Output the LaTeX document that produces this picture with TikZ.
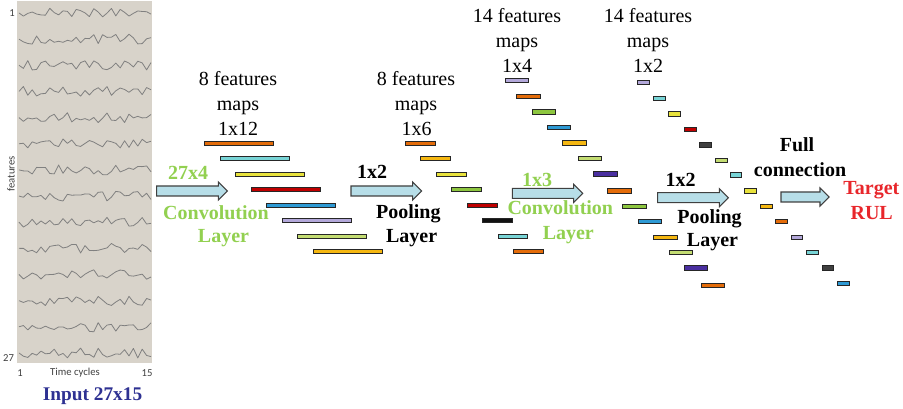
\documentclass[tikz,border=0pt]{standalone}
\usepackage{fontspec}
\setmainfont{Liberation Serif}[BoldFont={Liberation Serif Bold}]
\newfontfamily\tnr{Liberation Serif}[BoldFont={Liberation Serif Bold}]
\newfontfamily\calfont{Carlito}
\definecolor{cOr}{HTML}{E46C0A}
\definecolor{cCy}{HTML}{78D4D6}
\definecolor{cYe}{HTML}{E8E23C}
\definecolor{cRe}{HTML}{C00000}
\definecolor{cBl}{HTML}{2E9AD5}
\definecolor{cLa}{HTML}{B3A8DA}
\definecolor{cLg}{HTML}{C3DC72}
\definecolor{cGr}{HTML}{8DC63F}
\definecolor{cGo}{HTML}{F5B711}
\definecolor{cBk}{HTML}{111111}
\definecolor{cIn}{HTML}{4A2FA0}
\definecolor{cDg}{HTML}{404040}
\definecolor{convgreen}{HTML}{92D050}
\definecolor{rulred}{HTML}{E8262B}
\definecolor{inblue}{HTML}{2E3192}
\definecolor{panel}{HTML}{D8D3CA}
\definecolor{arrfill}{HTML}{B7DEE8}
\newcommand\blockarr[3]{%
  \draw[blockst] (#1,{#3-5}) -- ({#2-9},{#3-5}) -- ({#2-9},{#3-9}) -- (#2,#3)
    -- ({#2-9},{#3+9}) -- ({#2-9},{#3+5}) -- (#1,{#3+5}) -- cycle;}
\begin{document}
\begin{tikzpicture}[x=0.75pt,y=-0.75pt,
  bar/.style={draw=black!85, line width=0.7pt, inner sep=0pt, outer sep=0pt, minimum height=3.1pt},
  blockst/.style={draw=black!75, line width=0.8pt, fill=arrfill},
  lbl/.style={font=\tnr\fontsize{15}{18}\selectfont, anchor=base, inner sep=0pt},
  blbl/.style={font=\tnr\fontsize{15}{18}\selectfont\bfseries, anchor=base, inner sep=0pt},
  axl/.style={font=\calfont\fontsize{8}{9}\selectfont, text=black!75, inner sep=0pt},
  wave/.style={draw=black!50, line width=0.6pt, line join=round}]
\useasboundingbox (0,0) rectangle (903,409);
% input panel
\fill[panel] (17,1) rectangle (152,363);
\pgfmathsetseed{4242}
\foreach \k in {0,...,13} {
  \pgfmathsetmacro\yb{13+26.15*\k}
  \draw[wave] (19,\yb) \foreach \i in {1,...,30} { -- ({19+\i*4.4},{\yb+5*rand}) };
}
\node[axl] (t1) at (12,13) {1};
\node[axl] (t27) at (8.5,358) {27};
\node[axl, rotate=90] (tf) at (11,174) {features};
\node[axl] (b1) at (20,373) {1};
\node[axl] (btc) at (75,373) {Time cycles};
\node[axl] (b15) at (147,373) {15};
\node[blbl, font=\tnr\fontsize{14.5}{17}\selectfont\bfseries, text=inblue] (inp) at (92.5,400.7) {Input 27x15};
% layer 1
\foreach \c [count=\i from 0] in {cOr,cCy,cYe,cRe,cBl,cLa,cLg,cGo}
  \node[bar, minimum width=51.8pt, fill=\c] (a\i) at ({239.3+15.5*\i},{143.3+15.5*\i}) {};
% layer 2
\foreach \c [count=\i from 0] in {cOr,cGo,cYe,cGr,cRe,cBk,cCy,cOr}
  \node[bar, minimum width=22.3pt, fill=\c] (b\i) at ({420.3+15.46*\i},{143.3+15.5*\i}) {};
% layer 3
\foreach \c/\x/\y [count=\i] in {cLa/516.8/80.3, cOr/528.6/96.7, cGr/543.8/112, cBl/559.2/127.3,
   cGo/574.5/143, cLg/590/158.7, cIn/605.3/174, cOr/619.5/191, cGr/634.5/206.7, cBl/649.7/221.7,
   cGo/665.3/237.3, cLg/680.7/252.7, cIn/696.2/268, cOr/713/285.7}
  \node[bar, minimum width=17.5pt, fill=\c] (c\i) at (\x,\y) {};
% layer 4
\foreach \c/\x/\y [count=\i] in {cLa/643.8/82.7, cCy/659.3/98.7, cYe/674.8/114, cRe/690.3/129.3,
   cDg/705.8/145, cLg/721.2/160.3, cCy/736/175, cYe/750.8/191, cGo/766.2/206.3, cOr/781.7/221.7,
   cLa/797/237.3, cCy/812.5/252.7, cDg/828/268, cBl/843.3/283.7}
  \node[bar, minimum width=8.9pt, fill=\c] (d\i) at (\x,\y) {};
% block arrows
\blockarr{156.7}{227.3}{191}
\blockarr{351}{421.7}{191}
\blockarr{512.3}{582.7}{193.3}
\blockarr{657.7}{728.3}{197.7}
\blockarr{781}{829}{197}
% top labels
\node[lbl] (h1a) at (238,85.1) {8 features};
\node[lbl] (h1b) at (238,110.1) {maps};
\node[lbl] (h1c) at (238,135.1) {1x12};
\node[lbl] (h2a) at (416,85.1) {8 features};
\node[lbl] (h2b) at (416,110.1) {maps};
\node[lbl] (h2c) at (416.5,135.1) {1x6};
\node[lbl] (h3a) at (517,22.8) {14 features};
\node[lbl] (h3b) at (517,47.8) {maps};
\node[lbl] (h3c) at (517,72.8) {1x4};
\node[lbl] (h4a) at (648,22.8) {14 features};
\node[lbl] (h4b) at (648,47.8) {maps};
\node[lbl] (h4c) at (648,72.8) {1x2};
% operation labels
\node[blbl, text=convgreen] (k1) at (188,179.7) {27x4};
\node[blbl, text=convgreen] (k1b) at (216,219.3) {Convolution};
\node[blbl, text=convgreen] (k1c) at (223.5,242.7) {Layer};
\node[blbl] (p1) at (372,178.7) {1x2};
\node[blbl] (p1b) at (408.3,218.3) {Pooling};
\node[blbl] (p1c) at (411.7,242.7) {Layer};
\node[blbl, text=convgreen] (k2) at (537,186.7) {1x3};
\node[blbl, text=convgreen] (k2b) at (560.3,215) {Convolution};
\node[blbl, text=convgreen] (k2c) at (568.3,239.3) {Layer};
\node[blbl] (p2) at (680.5,186.7) {1x2};
\node[blbl] (p2b) at (709.5,223.3) {Pooling};
\node[blbl] (p2c) at (712.5,246.7) {Layer};
\node[blbl] (f1) at (797,152) {Full};
\node[blbl] (f2) at (800,176.7) {connection};
\node[blbl, text=rulred] (r1) at (871.3,195) {Target};
\node[blbl, text=rulred] (r2) at (871.7,219.3) {RUL};
\end{tikzpicture}
\end{document}
